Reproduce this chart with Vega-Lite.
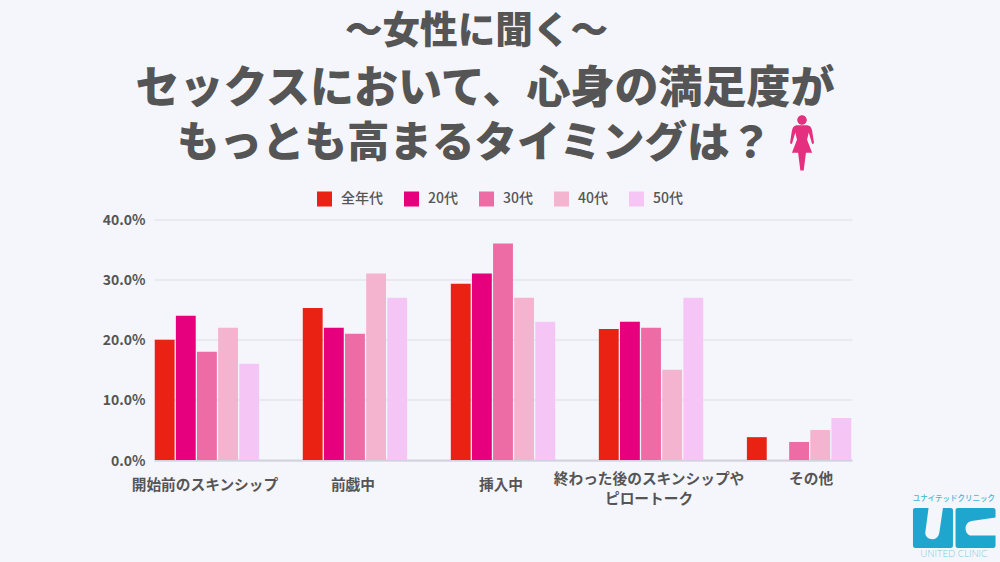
{
"$schema":"https://vega.github.io/schema/vega-lite/v6.json",
"width":698,"height":240.5,
"autosize":{"type":"none"},
"padding":{"left":154,"top":219.5,"right":148,"bottom":102},
"background":"#F5F6FC",
"title":{"text":"セックスにおいて、心身の満足度が","font":"Noto Sans CJK JP","fontWeight":900,"fontSize":44,"color":"#555555","anchor":"middle","dx":-18,"offset":-99,"frame":"group"},
"config":{"view":{"stroke":null},"font":"Noto Sans CJK JP"},
"resolve":{"scale":{"x":"independent"}},
"data":{"values":[
{"category":"開始前のスキンシップ","group":"全年代","rate":20},
{"category":"開始前のスキンシップ","group":"20代","rate":24},
{"category":"開始前のスキンシップ","group":"30代","rate":18},
{"category":"開始前のスキンシップ","group":"40代","rate":22},
{"category":"開始前のスキンシップ","group":"50代","rate":16},
{"category":"前戯中","group":"全年代","rate":25.3},
{"category":"前戯中","group":"20代","rate":22},
{"category":"前戯中","group":"30代","rate":21},
{"category":"前戯中","group":"40代","rate":31},
{"category":"前戯中","group":"50代","rate":27},
{"category":"挿入中","group":"全年代","rate":29.3},
{"category":"挿入中","group":"20代","rate":31},
{"category":"挿入中","group":"30代","rate":36},
{"category":"挿入中","group":"40代","rate":27},
{"category":"挿入中","group":"50代","rate":23},
{"category":"終わった後のスキンシップや ピロートーク","group":"全年代","rate":21.8},
{"category":"終わった後のスキンシップや ピロートーク","group":"20代","rate":23},
{"category":"終わった後のスキンシップや ピロートーク","group":"30代","rate":22},
{"category":"終わった後のスキンシップや ピロートーク","group":"40代","rate":15},
{"category":"終わった後のスキンシップや ピロートーク","group":"50代","rate":27},
{"category":"その他","group":"全年代","rate":3.8},
{"category":"その他","group":"20代","rate":0},
{"category":"その他","group":"30代","rate":3},
{"category":"その他","group":"40代","rate":5},
{"category":"その他","group":"50代","rate":7}
]},
"layer":[
{"mark":{"type":"bar"},
"encoding":{
"x":{"field":"category","type":"nominal","sort":null,"scale":{"paddingInner":0.295,"paddingOuter":0.005},
"axis":{"title":null,"labelAngle":0,"labelFontSize":14.7,"labelFontWeight":700,"labelColor":"#555555","domainColor":"#D2D2DE","domainWidth":2,"ticks":false,"grid":false,"labelLimit":300,"labelBaseline":"top",
"labelExpr":"split(datum.label,' ')",
"labelOffset":{"condition":{"test":"datum.value=='その他'","value":12},"value":-2},
"labelPadding":{"condition":{"test":"indexof(datum.value,' ')>=0 || datum.value=='その他'","value":11},"value":17},
"labelLineHeight":20}},
"xOffset":{"field":"group","type":"nominal","sort":["全年代","20代","30代","40代","50代"],"scale":{"paddingInner":0.06,"paddingOuter":0}},
"y":{"field":"rate","type":"quantitative","scale":{"domain":[0,40]},
"axis":{"title":null,"values":[0,10,20,30,40],"labelExpr":"format(datum.value,'.1f')+'%'","labelFontSize":14,"labelFontWeight":700,"labelColor":"#555555","domain":false,"ticks":false,"labelPadding":9,"labelOffset":1,"gridColor":"#DDDDE6","gridWidth":1}},
"color":{"field":"group","type":"nominal","sort":["全年代","20代","30代","40代","50代"],
"scale":{"domain":["全年代","20代","30代","40代","50代"],"range":["#EA2213","#E6007E","#EE6CA5","#F4B3CF","#F5C6F5"]},
"legend":{"title":null,"orient":"none","legendX":163,"legendY":-28,"direction":"horizontal","columns":5,"symbolType":"square","symbolSize":225,"symbolStrokeWidth":0,"labelFontSize":14,"labelFontWeight":500,"labelColor":"#555555","labelOffset":9,"columnPadding":21}}
}},
{"data":{"values":[{"line":"〜女性に聞く〜"}]},
"mark":{"type":"text","color":"#555555","fontSize":37.6,"fontWeight":900,"baseline":"middle"},
"encoding":{"x":{"datum":46.2,"type":"quantitative","scale":{"domain":[0,100]},"axis":null},"y":{"datum":71.2},"text":{"field":"line"}}},
{"data":{"values":[{"line":"もっとも高まるタイミングは？"}]},
"mark":{"type":"text","color":"#555555","fontSize":42.5,"fontWeight":900,"baseline":"middle"},
"encoding":{"x":{"datum":45.9,"type":"quantitative","scale":{"domain":[0,100]},"axis":null},"y":{"datum":52.5},"text":{"field":"line"}}},
{"data":{"values":[{"icon":"woman"}]},
"mark":{"type":"point","filled":true,"color":"#E4307F","opacity":1,"size":3136,"shape":"M0 -1 C0.1 -1 0.17 -0.92 0.17 -0.83 C0.17 -0.74 0.1 -0.66 0 -0.66 C-0.1 -0.66 -0.17 -0.74 -0.17 -0.83 C-0.17 -0.92 -0.1 -1 0 -1 Z M0 -0.64 L0.2 -0.64 C0.3 -0.62 0.34 -0.55 0.36 -0.45 L0.43 0 L0.36 0.03 L0.24 -0.38 L0.18 -0.12 L0.36 0.34 L0.14 0.34 L0.06 0.98 L-0.06 0.98 L-0.14 0.34 L-0.36 0.34 L-0.18 -0.12 L-0.24 -0.38 L-0.36 0.03 L-0.43 0 L-0.36 -0.45 C-0.34 -0.55 -0.3 -0.62 -0.2 -0.64 Z"},
"encoding":{"x":{"datum":92.84,"type":"quantitative","scale":{"domain":[0,100]},"axis":null},"y":{"datum":52.7}}},
{"data":{"values":[{"brand":"U"}]},
"mark":{"type":"point","filled":true,"color":"#1FA6CF","opacity":1,"size":1600,"shape":"M-0.88 -1 L-0.22 -1 L-0.38 0.2 C-0.42 0.42 -0.2 0.58 0 0.56 C0.2 0.54 0.3 0.4 0.33 0.15 L0.5 -1 L0.88 -1 C0.96 -1 1 -0.96 1 -0.88 L1 0.88 C1 0.96 0.96 1 0.88 1 L-0.88 1 C-0.96 1 -1 0.96 -1 0.88 L-1 -0.88 C-1 -0.96 -0.96 -1 -0.88 -1 Z"},
"encoding":{"x":{"datum":111.6,"type":"quantitative","scale":{"domain":[0,100]},"axis":null},"y":{"datum":-11.3}}},
{"data":{"values":[{"brand":"C"}]},
"mark":{"type":"point","filled":true,"color":"#1FA6CF","opacity":1,"size":1600,"shape":"M-0.88 -1 L0.88 -1 C0.96 -1 1 -0.96 1 -0.88 L1 -0.52 L-0.2 -0.35 C-0.4 -0.3 -0.5 -0.15 -0.5 0 C-0.5 0.2 -0.4 0.38 -0.2 0.38 L1 0.38 L1 0.88 C1 0.96 0.96 1 0.88 1 L-0.88 1 C-0.96 1 -1 0.96 -1 0.88 L-1 -0.88 C-1 -0.96 -0.96 -1 -0.88 -1 Z"},
"encoding":{"x":{"datum":117.7,"type":"quantitative","scale":{"domain":[0,100]},"axis":null},"y":{"datum":-11.3}}},
{"data":{"values":[{"brand":"ユナイテッドクリニック"}]},
"mark":{"type":"text","color":"#45B4D8","fontSize":7.5,"fontWeight":500,"baseline":"middle"},
"encoding":{"x":{"datum":114.6,"type":"quantitative","scale":{"domain":[0,100]},"axis":null},"y":{"datum":-6.5},"text":{"field":"brand"}}},
{"data":{"values":[{"brand":"UNITED CLINIC"}]},
"mark":{"type":"text","color":"#7CC8E2","fontSize":9.5,"fontWeight":300,"font":"Lato","letterSpacing":2.2,"baseline":"middle"},
"encoding":{"x":{"datum":114.6,"type":"quantitative","scale":{"domain":[0,100]},"axis":null},"y":{"datum":-15.6},"text":{"field":"brand"}}}
]
}
